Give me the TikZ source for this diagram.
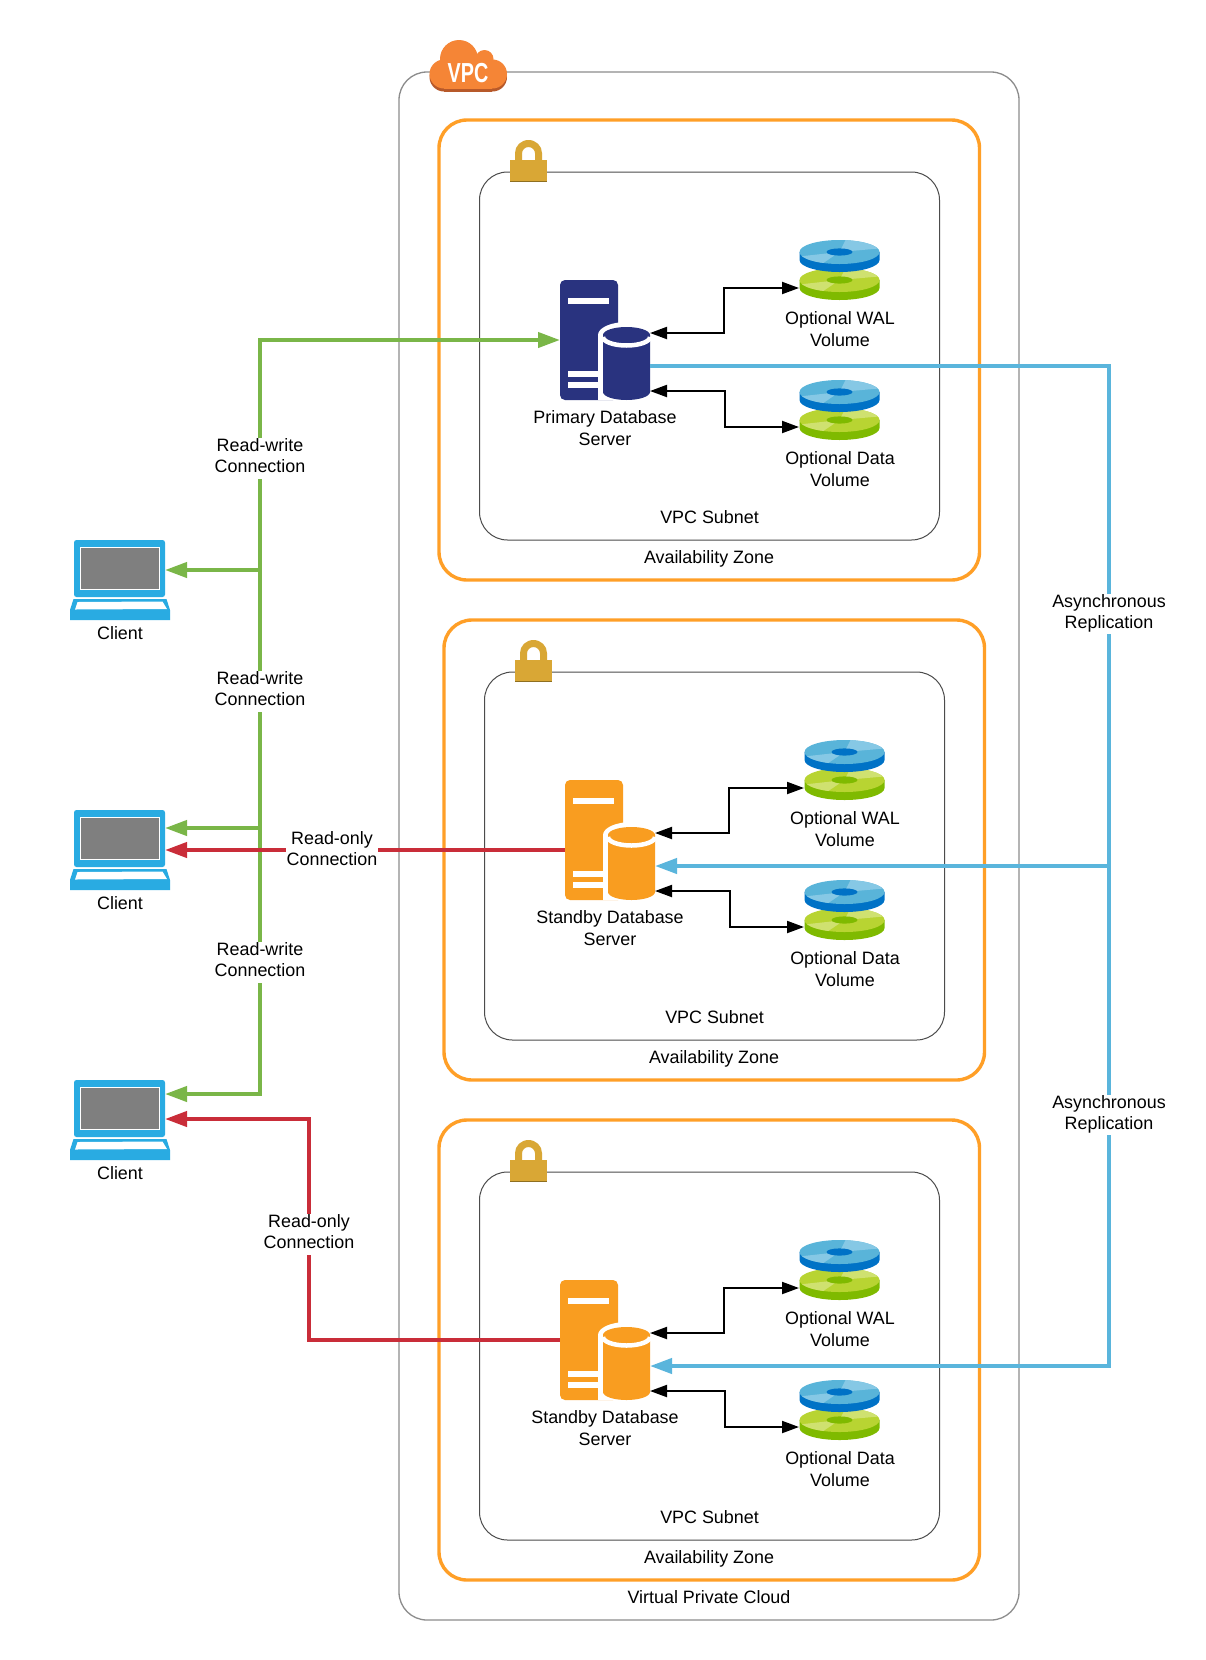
\documentclass[tikz,border=0pt]{standalone}
\usepackage{fontspec}
\setmainfont{Liberation Sans}
\usetikzlibrary{arrows.meta}
\definecolor{cgreen}{HTML}{7AB648}
\definecolor{cred}{HTML}{C92D39}
\definecolor{cblue}{HTML}{5AB5DC}
\definecolor{cazone}{HTML}{FF9F27}
\definecolor{cnavy}{HTML}{29337F}
\definecolor{corange}{HTML}{F99D20}
\definecolor{clock}{HTML}{D9A735}
\definecolor{clockd}{HTML}{8F6F20}
\definecolor{cclient}{HTML}{29ABE2}
\definecolor{cgrey}{HTML}{7F7F7F}
\definecolor{dbtop}{HTML}{59B4D9}
\definecolor{dbside}{HTML}{0072C6}
\definecolor{dblight}{HTML}{86C8E5}
\definecolor{dgtop}{HTML}{B8D432}
\definecolor{dgside}{HTML}{7FBA00}
\definecolor{dglight}{HTML}{CFE170}
\definecolor{ccloud}{HTML}{F58536}
\definecolor{ccloudd}{HTML}{B7592A}
\newcommand{\lastdepth}{\rule[-5.5pt]{0pt}{5.5pt}}
\tikzset{
  vpcbox/.style={draw=black!45,line width=1.3pt,rounded corners=28pt,inner sep=0pt,outer sep=0pt,fill=white},
  azbox/.style={draw=cazone,line width=3.4pt,rounded corners=28pt,inner sep=0pt,outer sep=0pt,minimum width=540.5pt,minimum height=460pt},
  subbox/.style={draw=black!70,line width=1pt,rounded corners=28pt,inner sep=0pt,outer sep=0pt,minimum width=460pt,minimum height=368pt},
  lbl/.style={align=center,inner sep=0pt,font=\fontsize{17.9pt}{21.3pt}\selectfont},
  wlbl/.style={lbl,fill=white,inner sep=0.5pt},
  blackconn/.style={draw=black,line width=2pt,{Triangle[length=17pt,width=12pt]}-{Triangle[length=17pt,width=12pt]}},
  greenconn/.style={draw=cgreen,line width=4pt,-{Triangle[length=22pt,width=15pt]}},
  greentwo/.style={draw=cgreen,line width=4pt,{Triangle[length=22pt,width=15pt]}-{Triangle[length=22pt,width=15pt]}},
  redconn/.style={draw=cred,line width=4pt,-{Triangle[length=22pt,width=15pt]}},
  blueconn/.style={draw=cblue,line width=4pt,-{Triangle[length=22pt,width=15pt]}},
}
% disk: centre x, centre y, top, side, light
\newcommand{\mydisk}[5]{%
  \begin{scope}[shift={(#1,#2)}]
    \fill[#4] (-40,0) -- (-40,8) arc[start angle=180,end angle=360,x radius=40pt,y radius=12pt] -- (40,0) -- cycle;
    \fill[#3] (0,0) ellipse [x radius=40pt,y radius=12pt];
    \begin{scope}
      \clip (0,0) ellipse [x radius=40pt,y radius=12pt];
      \fill[#5] (0,0) -- (7,-14) -- (45,-14) -- (45,-4) -- cycle;
      \fill[#5] (0,0) -- (-45,5) -- (-45,15) -- (-22,15) -- cycle;
    \end{scope}
    \fill[#4] (0,0) ellipse [x radius=13pt,y radius=3.6pt];
  \end{scope}}
% volume pair: both disks of one zone
\newcommand{\mypair}[1]{%
  \begin{scope}[shift={(0,#1)}]
    \mydisk{839.5}{280}{dgtop}{dgside}{dglight}
    \mydisk{839.5}{252}{dbtop}{dbside}{dblight}
  \end{scope}}
% server icon
\newcommand{\myserver}[1]{%
  \fill[#1,rounded corners=5pt] (560,400) -- (560,280) -- (618,280) -- (618,400) -- cycle;
  \fill[white] (568,298) rectangle (609,303.5);
  \fill[white] (568,371) rectangle (609,377);
  \fill[white] (568,382) rectangle (609,388);
  \fill[white] (598,335) arc[start angle=180,end angle=0,x radius=28.5pt,y radius=13pt] -- (655,400) -- (598,400) -- cycle;
  \fill[#1] (603,335) arc[start angle=180,end angle=0,x radius=23.5pt,y radius=8pt] -- (650,392) arc[start angle=0,end angle=-180,x radius=23.5pt,y radius=8pt] -- cycle;
  \draw[white,line width=4.5pt] (603,337) arc[start angle=180,end angle=360,x radius=23.5pt,y radius=8.5pt];
}
\newcommand{\mylock}{%
  \fill[clock] (515,162) -- (515,153) arc[start angle=180,end angle=0,x radius=13.5pt,y radius=13pt] -- (542,162) -- (535,162) -- (535,153.5) arc[start angle=0,end angle=180,x radius=6.5pt,y radius=6.5pt] -- (522,162) -- cycle;
  \fill[clock] (510,160) rectangle (547,181);
  \fill[clockd] (510,181) rectangle (547,182.3);
}
\newcommand{\myclient}[1]{%
  \begin{scope}[shift={(0,#1)}]
    \fill[cclient,rounded corners=2.5pt] (74,540) rectangle (165,597);
    \fill[white] (80,546.5) rectangle (159.5,589.5);
    \fill[cgrey] (81,547.5) rectangle (158.5,588.5);
    \fill[cclient] (73.5,599) -- (166.5,599) -- (170,610) -- (170,620) -- (70,620) -- (70,610) -- cycle;
    \fill[white] (77.5,602) -- (162.5,601.5) -- (167,609) -- (75,609.5) -- cycle;
  \end{scope}}
\begin{document}
\begin{tikzpicture}[x=1pt,y=-1pt]
\useasboundingbox (0,0) rectangle (1206,1660);
\fill[white] (0,0) rectangle (1206,1660);

% containers
\node[vpcbox,minimum width=620pt,minimum height=1548pt] (vpc) at (709,846) {};
\node[azbox] (az1) at (709.25,350) {};
\node[azbox] (az2) at (714.25,850) {};
\node[azbox] (az3) at (709.25,1350) {};
\node[subbox] (sub1) at (709.5,356) {};
\node[subbox] (sub2) at (714.5,856) {};
\node[subbox] (sub3) at (709.5,1356) {};

% VPC cloud
\begin{scope}
  \foreach \c/\f in {ccloudd/3,ccloud/0}{
    \begin{scope}[yshift=-\f pt]
    \fill[\c] (459,59) circle (19pt);
    \fill[\c] (484.5,59) circle (9pt);
    \fill[\c] (444,74) circle (14.5pt);
    \fill[\c] (492.5,74) circle (14.5pt);
    \fill[\c] (444,60) rectangle (492,88.5);
    \end{scope}}
\end{scope}
\node[inner sep=0pt,text=white] (cloudtext) at (468,73) {\scalebox{0.72}[1]{\fontsize{27.5pt}{27.5pt}\selectfont\bfseries VPC}};

% locks
\foreach \dx/\dy in {0/0,5/500,0/1000}{
  \begin{scope}[shift={(\dx,\dy)}]\mylock\end{scope}}

% disks
\begin{scope}[shift={(0,0)}]\mypair{0}\mypair{140}\end{scope}
\begin{scope}[shift={(5,500)}]\mypair{0}\mypair{140}\end{scope}
\begin{scope}[shift={(0,1000)}]\mypair{0}\mypair{140}\end{scope}

% ports
\foreach \p/\dx/\dy in {a/0/0,b/5/500,c/0/1000}{
  \begin{scope}[shift={(\dx,\dy)}]
    \coordinate (\p wal) at (650,333);
    \coordinate (\p dat) at (650,391);
    \coordinate (\p walv) at (799,288);
    \coordinate (\p datv) at (799,427);
    \coordinate (\p wmid) at (724,333);
    \coordinate (\p dmid) at (725,391);
    \coordinate (\p rep) at (650,366);
    \coordinate (\p west) at (560,340);
  \end{scope}}
\coordinate (ctop) at (165,570);
\coordinate (cmid) at (165,828);
\coordinate (cmidr) at (165,850);
\coordinate (cbot) at (165,1094);
\coordinate (cbotr) at (165,1119);
\coordinate (gtop) at (260,340);
\coordinate (rjog) at (309,1340);
\coordinate (srv2r) at (565,850);
\coordinate (srv3r) at (560,1340);
\coordinate (bx) at (1109,366);

% client links
\draw[greentwo] (cbot) -- (gtop |- cbot) -- (gtop) -- (awest);
\draw[greenconn] (gtop |- ctop) -- (ctop);
\draw[greenconn] (gtop |- cmid) -- (cmid);
\draw[redconn] (srv2r) -- (cmidr);
\draw[redconn] (srv3r) -- (rjog) -- (rjog |- cbotr) -- (cbotr);

% servers
\myserver{cnavy}
\begin{scope}[shift={(5,500)}]\myserver{corange}\end{scope}
\begin{scope}[shift={(0,1000)}]\myserver{corange}\end{scope}

% replication lines
\draw[blueconn] (arep) -- (bx) -- (bx |- crep) -- (crep);
\draw[blueconn] (bx |- brep) -- (brep);

% volume links
\foreach \p in {a,b,c}{
  \draw[blackconn] (\p wal) -- (\p wmid) -- (\p wmid |- \p walv) -- (\p walv);
  \draw[blackconn] (\p dat) -- (\p dmid) -- (\p dmid |- \p datv) -- (\p datv);
}

% clients
\myclient{0}\myclient{270}\myclient{540}

% texts in zones
\node[lbl] (l1) at (605,428) {Primary Database\\Server};
\node[lbl] (l2) at (610,928) {Standby Database\\Server};
\node[lbl] (l3) at (605,1428) {Standby Database\\Server};
\foreach \p/\dx/\dy in {a/0/0,b/5/500,c/0/1000}{
  \node[lbl] (\p w) at (840+\dx,329+\dy) {Optional WAL\\Volume};
  \node[lbl] (\p d) at (840+\dx,469+\dy) {Optional Data\\Volume};
  \node[lbl] (\p s) at (709.5+\dx,517+\dy) {VPC Subnet};
  \node[lbl] (\p z) at (709+\dx,559+\dy) {Availability Zone};
}
\node[lbl] (vpct) at (709,1597) {Virtual Private Cloud};
\node[lbl] (cl1) at (120,633) {Client};
\node[lbl] (cl2) at (120,903) {Client};
\node[lbl] (cl3) at (120,1173) {Client};

% connector labels
\node[wlbl] (rw1) at (260,458.5) {Read-write\\Connection\lastdepth};
\node[wlbl] (rw2) at (260,691.5) {Read-write\\Connection\lastdepth};
\node[wlbl] (rw3) at (260,962.5) {Read-write\\Connection\lastdepth};
\node[wlbl] (ro1) at (332,851.5) {Read-only\\Connection\lastdepth};
\node[wlbl] (ro2) at (309,1234.5) {Read-only\\Connection\lastdepth};
\node[wlbl] (as1) at (1109,614) {Asynchronous\\Replication\lastdepth};
\node[wlbl] (as2) at (1109,1115) {Asynchronous\\Replication\lastdepth};
\end{tikzpicture}
\end{document}
